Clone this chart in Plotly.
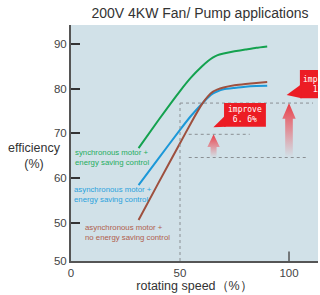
import plotly.graph_objects as go

# ---- data ----
speed = [31, 40, 50, 55, 60, 63, 65, 67, 70, 75, 80, 85, 90]
sync_saving = [66.7, 72.9, 79.5, 82.5, 85.0, 86.3, 87.0, 87.5, 87.9, 88.4, 88.8, 89.2, 89.5]
async_saving = [58.4, 64.3, 70.8, 73.9, 76.6, 78.1, 78.9, 79.4, 79.9, 80.2, 80.45, 80.6, 80.7]
async_no_saving = [50.6, 58.8, 67.8, 72.3, 76.5, 78.4, 79.3, 79.8, 80.3, 80.8, 81.1, 81.3, 81.5]

y_tick_vals = [41.4, 50, 60, 70, 80, 90]
y_tick_text = ["50", "50", "60", "70", "80", "90"]
x_tick_vals = [0, 50, 100]
x_tick_text = ["0", "50", "100"]

ref_speed = 50
base_level = 64.6
level_1 = 69.8
level_2 = 76.8
arrow_x = [65.4, 100]
arrow_tip = [level_1, level_2]
improve_text = ["improve<br>6. 6%", "improve<br>13%"]

GREEN = "#14a24f"
BLUE = "#1c98d8"
BROWN = "#9e503e"
RED = "#ec1c24"
BG = "#d1e1e8"

fig = go.Figure()

for ys, col in [(sync_saving, GREEN), (async_saving, BLUE), (async_no_saving, BROWN)]:
    fig.add_trace(go.Scatter(x=speed, y=ys, mode="lines", line=dict(color=col, width=2, shape="spline", smoothing=0.5),
                             showlegend=False, hoverinfo="skip"))

# gradient arrows
arrow_dims = [(1.38, 2.84, 2.85), (1.75, 3.07, 3.5)]
for ax_, tip, (sw, hw, hh) in zip(arrow_x, arrow_tip, arrow_dims):
    b = base_level
    hb = tip - hh
    xs = [ax_ - sw, ax_ + sw, ax_ + sw, ax_ + hw, ax_, ax_ - hw, ax_ - sw, ax_ - sw]
    ys = [b, b, hb, hb, tip, hb, hb, b]
    fig.add_trace(go.Scatter(x=xs, y=ys, mode="lines", fill="toself", line=dict(width=0),
                             fillgradient=dict(type="vertical", start=b, stop=tip,
                                               colorscale=[[0, "rgba(236,90,100,0.0)"], [0.5, "rgba(236,80,90,0.55)"], [1, "rgba(234,50,60,0.95)"]]),
                             showlegend=False, hoverinfo="skip"))

shapes = []
dot = dict(color="#8a8f93", width=1, dash="dot")
shapes.append(dict(type="line", xref="x", yref="y", x0=ref_speed, x1=ref_speed, y0=41.4, y1=level_2, line=dot))
shapes.append(dict(type="line", xref="x", yref="y", x0=ref_speed, x1=111, y0=level_2, y1=level_2, line=dot))
shapes.append(dict(type="line", xref="x", yref="y", x0=54, x1=82, y0=level_1, y1=level_1, line=dot))
shapes.append(dict(type="line", xref="x", yref="y", x0=54, x1=109, y0=base_level, y1=base_level, line=dot))

# callout boxes
boxes = [(70.2, 89.4, 71.5, 76.8, 65.3, 71.4), (105, 124, 77.9, 84.2, 98.9, 78.6)]
for x0, x1, y0, y1, tx, ty in boxes:
    shapes.append(dict(type="rect", xref="x", yref="y", x0=x0, x1=x1, y0=y0, y1=y1, fillcolor=RED, line=dict(width=0)))
    ym = (y0 + y1) / 2
    shapes.append(dict(type="path", xref="x", yref="y",
                       path=f"M {x0+0.8},{ym} L {x0+0.8},{y0} L {tx},{ty} Z", fillcolor=RED, line=dict(width=0)))
shapes.append(dict(type="line", xref="x", yref="paper", x0=100, x1=100, y0=0, y1=0.04, line=dict(color="#555", width=1.5)))

lbl_font = "Liberation Sans"
annotations = [
    dict(x=79.8, y=74.15, xref="x", yref="y", text=improve_text[0], showarrow=False,
         font=dict(family="DejaVu Sans Mono", size=8, color="white"), align="center"),
    dict(x=105.6, y=81.05, xref="x", yref="y", text=improve_text[1], showarrow=False, xanchor="left",
         font=dict(family="DejaVu Sans Mono", size=8, color="white"), align="center"),
    dict(x=1.05, y=64.7, xref="x", yref="y", xanchor="left", text="synchronous motor +<br>energy saving control",
         showarrow=False, align="left", font=dict(family=lbl_font, size=7.8, color="#25ad5e")),
    dict(x=0.3, y=56.2, xref="x", yref="y", xanchor="left", text="asynchronous motor +<br>energy saving control",
         showarrow=False, align="left", font=dict(family=lbl_font, size=7.8, color="#2aa2dd")),
    dict(x=5.4, y=47.9, xref="x", yref="y", xanchor="left", text="asynchronous motor +<br>no energy saving control",
         showarrow=False, align="left", font=dict(family=lbl_font, size=7.8, color="#b0604d")),
    dict(x=-0.148, y=0.447, xref="paper", yref="paper", text="efficiency<br>(%)", showarrow=False,
         font=dict(family=lbl_font, size=12.5, color="#333"), align="center", xanchor="center", yanchor="middle"),
]

fig.update_layout(
    width=320, height=295,
    margin=dict(l=71, r=2, t=25, b=34),
    paper_bgcolor="white", plot_bgcolor=BG,
    title=dict(text="200V 4KW Fan/ Pump applications", x=0.625, xanchor="center", y=0.955, yanchor="middle",
               font=dict(family=lbl_font, size=14, color="#333")),
    showlegend=False,
    shapes=shapes,
    annotations=annotations,
    xaxis=dict(range=[0, 113.3], tickvals=x_tick_vals, ticktext=x_tick_text, showgrid=False, zeroline=False,
               ticks="", showline=True, linecolor="#555", linewidth=2,
               tickfont=dict(family=lbl_font, size=11.5, color="#444"),
               title=dict(text="rotating speed（%）", font=dict(family=lbl_font, size=12.5, color="#333"), standoff=2)),
    yaxis=dict(range=[41.4, 94.3], tickvals=y_tick_vals, ticktext=y_tick_text, showgrid=False, zeroline=False,
               ticks="inside", ticklen=9, tickwidth=1.5, tickcolor="#333", showline=True, linecolor="#555", linewidth=2,
               tickfont=dict(family=lbl_font, size=11.5, color="#444")),
)
fig.write_html("out.html", config={"displayModeBar": False},
               post_script="document.body.style.margin='0px';document.body.style.overflow='hidden';")
